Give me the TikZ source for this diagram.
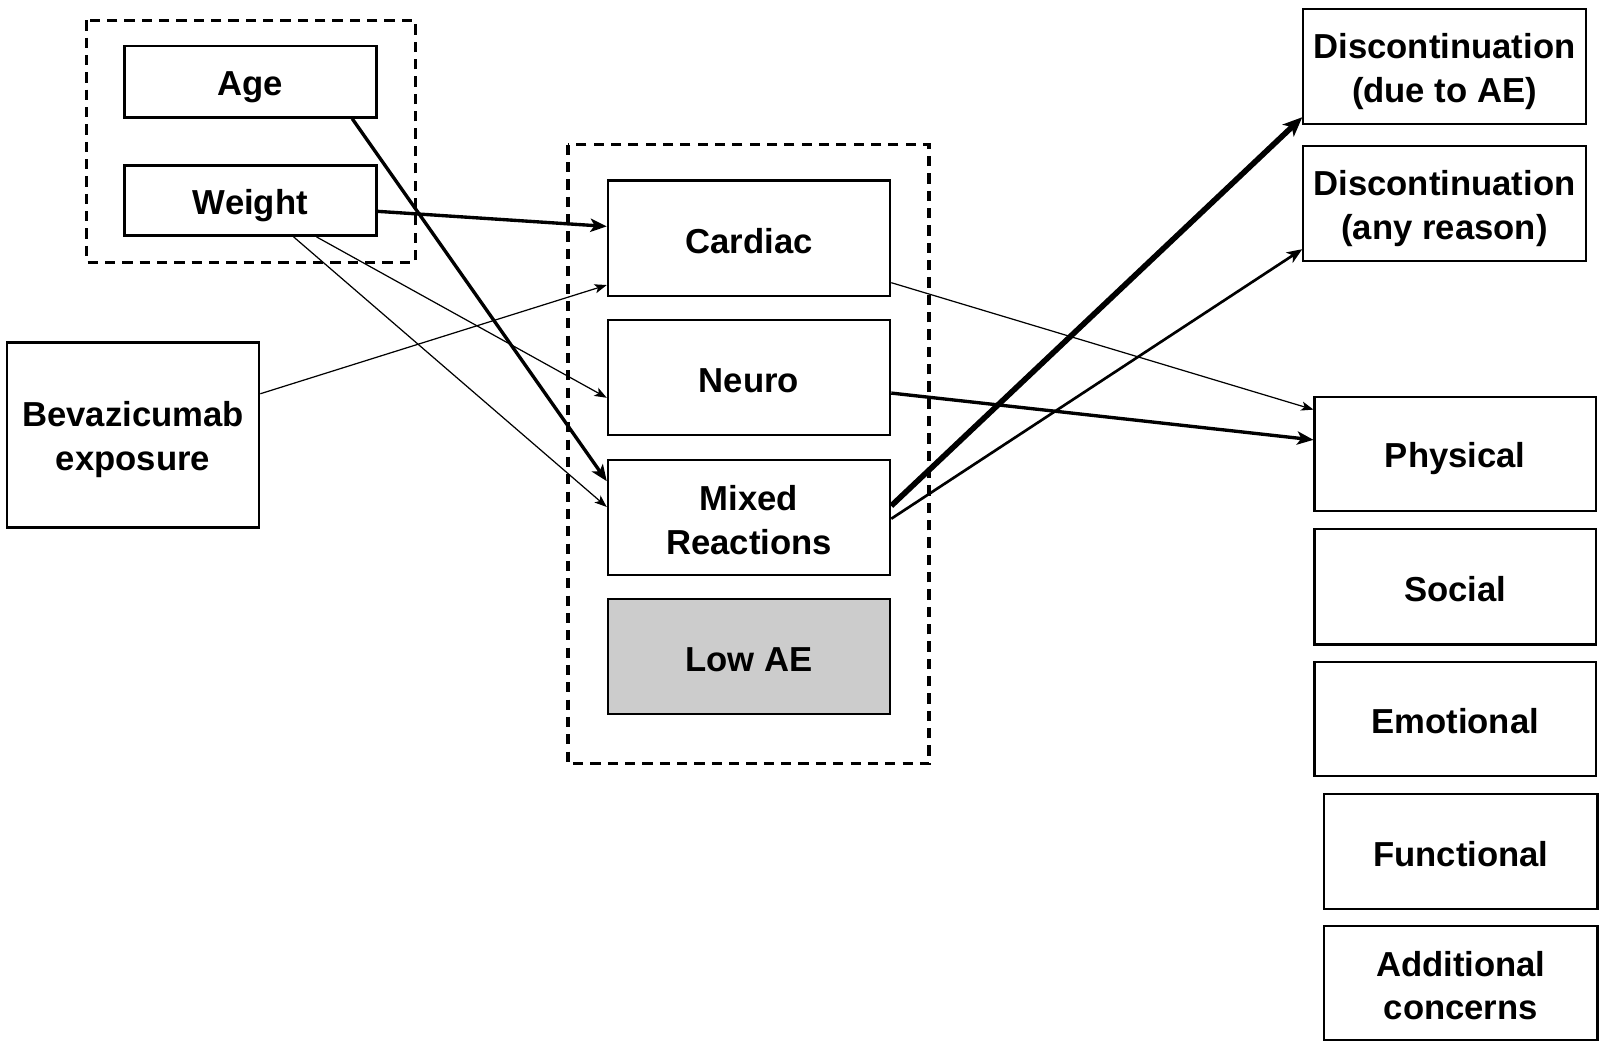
\documentclass[tikz,border=0pt]{standalone}
\usepackage{fontspec}
\setmainfont{Liberation Sans}
\usetikzlibrary{arrows.meta,calc}
\newcommand\bxstrut{\rule[-4.6pt]{0pt}{38.6pt}}
\begin{document}
\begin{tikzpicture}[x=1pt,y=-1pt,
  box/.style={draw, line width=2pt, rectangle, align=center, inner sep=0pt,
    font=\fontsize{34}{43}\selectfont\bfseries},
  dashbox/.style={draw, line width=3pt, dash pattern=on 10pt off 7pt},
  thinarr/.style={line width=1.2pt, -{Stealth[length=12pt,width=9pt,inset=3pt]}},
  thickarr/.style={line width=3.3pt, -{Stealth[length=16pt,width=13pt,inset=4pt]}},
  heavyarr/.style={line width=5.5pt, -{Stealth[length=19pt,width=16pt,inset=5pt]}},
  medarr/.style={line width=2.6pt, -{Stealth[length=15pt,width=12pt,inset=4pt]}}]
\useasboundingbox (0,0) rectangle (1568,1026);
\fill[white] (0,0) rectangle (1568,1026);

% group frames
\draw[dashbox] (85,20) rectangle (407,257);
\draw[dashbox] (557,142) rectangle (911,749);

% left nodes
\node[box, line width=2.6pt, minimum width=247pt, minimum height=70pt] (age) at (245.5,80) {\bxstrut Age};
\node[box, line width=2.6pt, minimum width=247pt, minimum height=69pt] (weight) at (245.5,196.5) {\bxstrut Weight};
\node[box, line width=2.6pt, minimum width=247pt, minimum height=181pt] (bev) at (130.5,426.5) {\bxstrut Bevazicumab\\\bxstrut exposure};

% middle nodes
\node[box, minimum width=277pt, minimum height=113pt] (cardiac) at (734.5,233.5) {\bxstrut Cardiac};
\node[box, minimum width=277pt, minimum height=113pt] (neuro) at (734.5,370.5) {\bxstrut Neuro};
\node[box, minimum width=277pt, minimum height=113pt] (mixed) at (734.5,507.5) {\bxstrut Mixed\\\bxstrut Reactions};
\node[box, fill=black!20, minimum width=277pt, minimum height=113pt] (lowae) at (734.5,643.5) {\bxstrut Low AE};

% right nodes
\node[box, minimum width=277pt, minimum height=113pt] (dae) at (1416.5,65.5) {\bxstrut Discontinuation\\\bxstrut (due to AE)};
\node[box, minimum width=277pt, minimum height=113pt] (dany) at (1416.5,199.5) {\bxstrut Discontinuation\\\bxstrut (any reason)};
\node[box, minimum width=276pt, minimum height=112pt] (physical) at (1427,445) {\bxstrut Physical};
\node[box, minimum width=276pt, minimum height=113pt] (social) at (1427,575.5) {\bxstrut Social};
\node[box, minimum width=276pt, minimum height=112pt] (emotional) at (1427,705) {\bxstrut Emotional};
\node[box, minimum width=268pt, minimum height=112pt] (functional) at (1432.5,835) {\bxstrut Functional};
\node[box, minimum width=268pt, minimum height=112pt] (additional) at (1432.5,964) {\bxstrut Additional\\\bxstrut concerns};

% connectors
\draw[thickarr] ($(age.south west)!0.9!(age.south east)$) -- ($(mixed.north west)!0.19!(mixed.south west)$);
\draw[thickarr] ($(weight.north east)!0.65!(weight.south east)$) -- ($(cardiac.north west)!0.4!(cardiac.south west)$);
\draw[thinarr] ($(weight.south west)!0.76!(weight.south east)$) -- ($(neuro.north west)!0.67!(neuro.south west)$);
\draw[thinarr] ($(weight.south west)!0.67!(weight.south east)$) -- ($(mixed.north west)!0.41!(mixed.south west)$);
\draw[thinarr] ($(bev.north east)!0.28!(bev.south east)$) -- ($(cardiac.north west)!0.9!(cardiac.south west)$);
\draw[thinarr] ($(cardiac.north east)!0.88!(cardiac.south east)$) -- ($(physical.north west)!0.12!(physical.south west)$);
\draw[thickarr] ($(neuro.north east)!0.63!(neuro.south east)$) -- ($(physical.north west)!0.38!(physical.south west)$);
\draw[heavyarr] ($(mixed.north east)!0.4!(mixed.south east)$) -- ($(dae.north west)!0.93!(dae.south west)$);
\draw[medarr] ($(mixed.north east)!0.51!(mixed.south east)$) -- ($(dany.north west)!0.89!(dany.south west)$);
\end{tikzpicture}
\end{document}
